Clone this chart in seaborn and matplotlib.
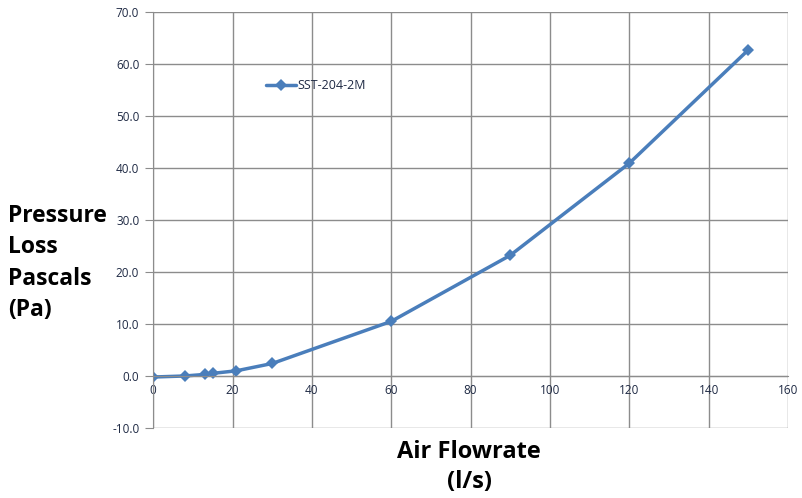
import matplotlib
matplotlib.use("Agg")
import matplotlib.pyplot as plt
import seaborn as sns
import pandas as pd
from matplotlib.ticker import FormatStrFormatter

# valeurs
flowrate = [0, 8, 13, 15, 21, 30, 60, 90, 120, 150]
pressure_loss = [-0.2, 0.0, 0.3, 0.5, 1.0, 2.4, 10.5, 23.2, 40.9, 62.7]
series_name = "SST-204-2M"

x_ticks = [0, 20, 40, 60, 80, 100, 120, 140, 160]
y_ticks = [-10, 0, 10, 20, 30, 40, 50, 60, 70]

df = pd.DataFrame({"flow": flowrate, "loss": pressure_loss})

sns.set_style("white")
plt.rcParams['font.family'] = ['Open Sans', 'DejaVu Sans']

fig = plt.figure(figsize=(8.02, 4.98), dpi=100)
ax = fig.add_axes([0.191, 0.1406, 0.7915, 0.8354])

line_color = "#4a7ebb"
sns.lineplot(data=df, x="flow", y="loss", ax=ax, color=line_color, lw=2.5,
             marker="D", markersize=6, markeredgewidth=0, label=series_name)

ax.set_xlim(0, 160)
ax.set_ylim(-10, 70)
ax.set_xticks(x_ticks)
ax.set_yticks(y_ticks)
ax.yaxis.set_major_formatter(FormatStrFormatter("%.1f"))
ax.grid(True, color="#8c8c8c", lw=1)
ax.set_axisbelow(True)

for s in ["top", "right"]:
    ax.spines[s].set_visible(False)
ax.spines["left"].set_color("#8c8c8c")
ax.spines["bottom"].set_color("#8c8c8c")
ax.spines["bottom"].set_position(("data", 0))

ax.tick_params(axis="y", which="both", length=6, color="#8c8c8c",
               labelsize=8.5, labelcolor="#1f2a44", pad=4, direction="out", left=True)
ax.tick_params(axis="x", which="both", length=0, labelsize=8.5,
               labelcolor="#1f2a44", pad=6, bottom=True)

ax.set_xlabel("")
ax.set_ylabel("")

leg = ax.legend(loc="upper left", bbox_to_anchor=(0.16, 0.865), frameon=False,
                fontsize=9, handlelength=2.4, handletextpad=0.15)
for t in leg.get_texts():
    t.set_color("#1f2a44")

fig.text(0.01, 0.472, "Pressure\nLoss\nPascals\n(Pa)", ha="left", va="center",
         fontsize=16.5, fontweight="bold", linespacing=1.42, color="black")
fig.text(0.585, 0.062, "Air Flowrate\n(l/s)", ha="center", va="center",
         fontsize=17, fontweight="bold", linespacing=1.3, color="black")

fig.savefig("out.png", dpi=100)
